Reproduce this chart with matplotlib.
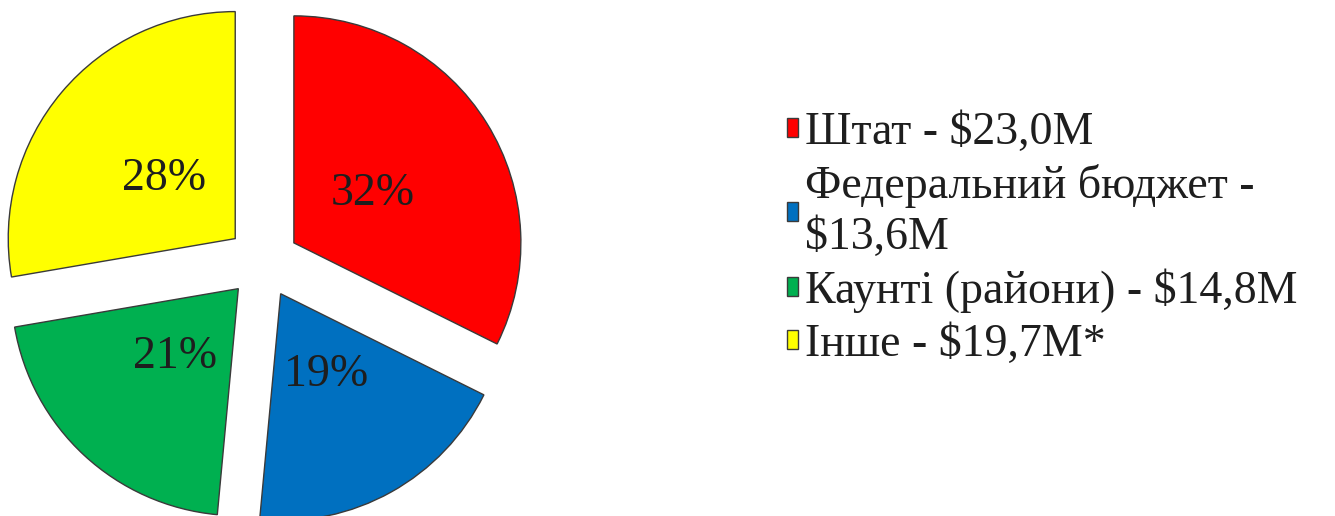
#######################################################
# imports

import numpy as np
import matplotlib
matplotlib.use('Agg')
import matplotlib.pyplot as plt

plt.rcParams['font.family'] = ['Liberation Serif', 'DejaVu Serif']

#######################################################
# data

labels = ['Штат - $23,0M', 'Федеральний бюджет -\n$13,6M', 'Каунті (райони) - $14,8M', 'Інше - $19,7M*']
values = [23.0, 13.6, 14.8, 19.7]
colors = ['#FF0000', '#0070C0', '#00B050', '#FFFF00']

#######################################################
# plot

fig = plt.figure(figsize=(13.35, 5.16), dpi=100)

# pie axes: centre near (263, 262) px, radius ~227 px
lim = 1.2
R_px = 227.0
w = 2*lim*R_px
ax = fig.add_axes([(263 - w/2)/1335, (516 - 262 - w/2)/516, w/1335, w/516])

wedges, texts, autotexts = ax.pie(values, colors=colors, startangle=90, counterclock=False,
                                  explode=[0.16]*4, radius=1.0, autopct='%1.0f%%',
                                  pctdistance=0.41,
                                  wedgeprops=dict(edgecolor='#3a3a3a', linewidth=1.0),
                                  textprops=dict(fontsize=33, color='#1e1e1e'))
ax.set_xlim(-lim, lim)
ax.set_ylim(-lim, lim)
ax.set_aspect('equal')

leg = fig.legend(wedges, labels, loc='center left', bbox_to_anchor=(787/1335, 0.537),
                 bbox_transform=fig.transFigure, frameon=False, fontsize=33,
                 handlelength=0.245, handleheight=0.27, handletextpad=0.15,
                 labelspacing=0.22, borderpad=0, borderaxespad=0)
for t in leg.get_texts():
    t.set_color('#1e1e1e')
    t.set_linespacing(1.24)

plt.savefig('out.png', dpi=100)
plt.close()
